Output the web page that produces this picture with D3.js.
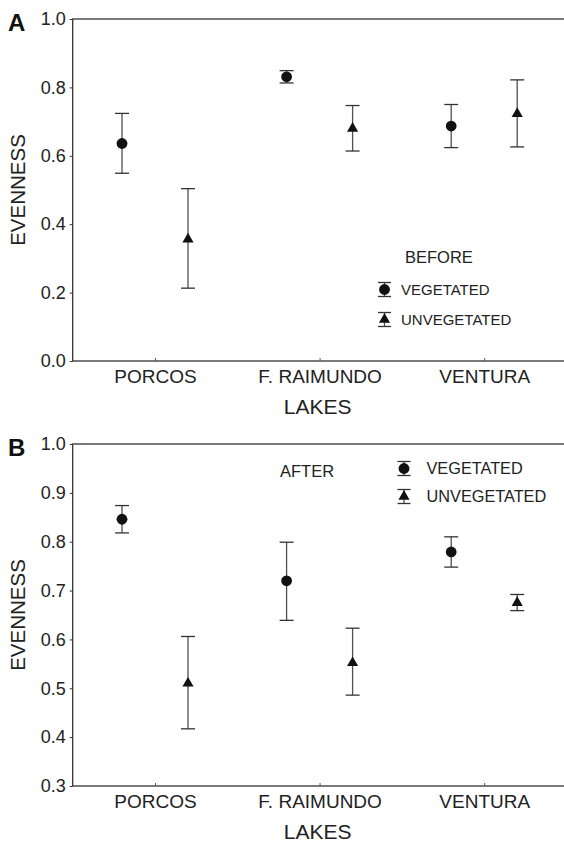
<!DOCTYPE html>
<html>
<head>
<meta charset="utf-8">
<script src="https://cdn.jsdelivr.net/npm/d3@7"></script>
<style>
  body { margin: 0; background: #fff; }
  svg { display: block; font-family: "Liberation Sans", Arial, sans-serif; }
</style>
</head>
<body>
<svg id="fig"></svg>
<script>
// lakes on the x axis
const lakes = ["PORCOS", "F. RAIMUNDO", "VENTURA"];

// A: before
const beforeVegMean = [0.636, 0.831, 0.687];
const beforeVegLow = [0.549, 0.813, 0.624];
const beforeVegHigh = [0.724, 0.849, 0.750];
const beforeUnvegMean = [0.356, 0.680, 0.723];
const beforeUnvegLow = [0.213, 0.614, 0.626];
const beforeUnvegHigh = [0.504, 0.747, 0.822];
const beforeTicks = [0.0, 0.2, 0.4, 0.6, 0.8, 1.0];

// B: after
const afterVegMean = [0.846, 0.720, 0.779];
const afterVegLow = [0.818, 0.639, 0.748];
const afterVegHigh = [0.874, 0.799, 0.810];
const afterUnvegMean = [0.510, 0.552, 0.675];
const afterUnvegLow = [0.417, 0.486, 0.659];
const afterUnvegHigh = [0.606, 0.623, 0.692];
const afterTicks = [0.3, 0.4, 0.5, 0.6, 0.7, 0.8, 0.9, 1.0];

const seriesNames = ["VEGETATED", "UNVEGETATED"];

const width = 564;
const height = 843;
const left = 72.7, right = 566.5;
const plotH = 342;
const dx = 33;          // offset of the two groups from the lake tick
const capW = 7;
const ink = "#222";
const barColor = "#505050";

const svg = d3.select("#fig").attr("width", width).attr("height", height);

const circle = d3.symbol().type(d3.symbolCircle).size(Math.PI * 5.4 * 5.4);
const triangle = d3.symbol().type(d3.symbolTriangle).size(54);
const shapes = [circle, triangle];

function rows(mean, low, high) {
  return lakes.map((l, i) => ({lake: l, m: mean[i], lo: low[i], hi: high[i]}));
}

function errorBar(g, x, yLo, yHi, w) {
  g.append("line").attr("x1", x).attr("x2", x).attr("y1", yLo).attr("y2", yHi)
    .attr("stroke", barColor).attr("stroke-width", 1.3);
  [yLo, yHi].forEach(y => {
    g.append("line").attr("x1", x - w).attr("x2", x + w).attr("y1", y).attr("y2", y)
      .attr("stroke", "#333").attr("stroke-width", 1.3);
  });
}

function drawPanel(p) {
  const top = p.top;
  const bottom = top + plotH;

  const x = d3.scalePoint().domain(lakes).range([left, right]).padding(0.5);
  const y = d3.scaleLinear().domain(p.domain).range([bottom, top]);

  const g = svg.append("g");

  // frame
  g.append("rect")
    .attr("x", left).attr("y", top)
    .attr("width", right - left).attr("height", plotH)
    .attr("fill", "none").attr("stroke", "#333").attr("stroke-width", 1.3);

  const yaxis = d3.axisLeft(y).tickValues(p.ticks).tickFormat(d3.format(".1f"))
    .tickSize(3).tickSizeOuter(0).tickPadding(4);
  const ya = g.append("g").attr("transform", `translate(${left},0)`).call(yaxis);
  ya.select(".domain").remove();
  ya.selectAll("line").attr("stroke", "#333");
  ya.selectAll("text").attr("fill", ink).attr("font-size", "18px");

  const xaxis = d3.axisBottom(x).tickSize(-3).tickSizeOuter(0).tickPadding(9);
  const xa = g.append("g").attr("transform", `translate(0,${bottom})`).call(xaxis);
  xa.select(".domain").remove();
  xa.selectAll("line").attr("stroke", "#555");
  xa.selectAll("text").attr("fill", ink).attr("font-size", "19px");

  g.append("text")
    .attr("x", (left + right) / 2 - 2).attr("y", bottom + 53)
    .attr("text-anchor", "middle").attr("font-size", "21px").attr("fill", ink)
    .text("LAKES");

  g.append("text")
    .attr("transform", `translate(25,${(top + bottom) / 2}) rotate(-90)`)
    .attr("text-anchor", "middle").attr("font-size", "20.5px").attr("fill", ink)
    .text("EVENNESS");

  g.append("text")
    .attr("x", 8).attr("y", top + 11.5)
    .attr("font-size", "24px").attr("font-weight", "bold").attr("fill", "#111")
    .text(p.letter);

  // data
  p.series.forEach((s, k) => {
    const off = k === 0 ? -dx : dx;
    s.forEach(d => {
      const cx = x(d.lake) + off;
      errorBar(g, cx, y(d.lo), y(d.hi), capW);
      g.append("path")
        .attr("d", shapes[k]())
        .attr("transform", `translate(${cx},${y(d.m)})`)
        .attr("fill", "#111");
    });
  });

  // legend
  const L = p.legend;
  g.append("text")
    .attr("x", L.titleX).attr("y", L.titleY)
    .attr("font-size", L.titleSize).attr("fill", ink)
    .text(L.title);
  seriesNames.forEach((name, k) => {
    const ry = L.rowY[k];
    errorBar(g, L.symX, ry + 7, ry - 7, 6.5);
    g.append("path").attr("d", shapes[k]())
      .attr("transform", `translate(${L.symX},${ry})`).attr("fill", "#111");
    g.append("text")
      .attr("x", L.textX).attr("y", ry + L.textSize * 0.36)
      .attr("font-size", L.textSize + "px").attr("fill", ink)
      .text(name);
  });
}

drawPanel({
  letter: "A",
  top: 19,
  domain: [0, 1],
  ticks: beforeTicks,
  series: [rows(beforeVegMean, beforeVegLow, beforeVegHigh),
           rows(beforeUnvegMean, beforeUnvegLow, beforeUnvegHigh)],
  legend: {title: "BEFORE", titleX: 405, titleY: 263, titleSize: "16.5px",
           symX: 384.5, rowY: [289.5, 319.5], textX: 401, textSize: 15}
});

drawPanel({
  letter: "B",
  top: 444,
  domain: [0.3, 1],
  ticks: afterTicks,
  series: [rows(afterVegMean, afterVegLow, afterVegHigh),
           rows(afterUnvegMean, afterUnvegLow, afterUnvegHigh)],
  legend: {title: "AFTER", titleX: 280, titleY: 476.5, titleSize: "16.5px",
           symX: 404, rowY: [468.5, 496.5], textX: 426.5, textSize: 16.3}
});
</script>
</body>
</html>
